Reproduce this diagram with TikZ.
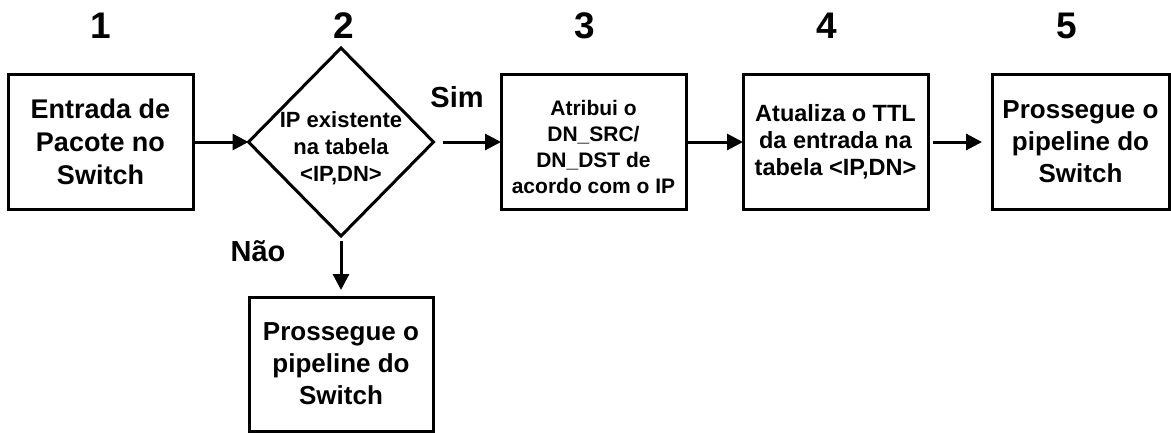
\documentclass[tikz,border=0pt]{standalone}
\usepackage{fontspec}
\setmainfont{Liberation Sans}
\usetikzlibrary{shapes.geometric,arrows.meta}
\tikzset{
  stepbox/.style={draw, line width=3pt, minimum height=135pt, minimum width=185pt, inner sep=0pt, outer sep=0pt, align=center},
  decbox/.style={draw, diamond, line width=3pt, minimum width=185pt, minimum height=188pt, inner sep=0pt, outer sep=0pt},
  txt/.style={align=center, inner sep=0pt},
  numlbl/.style={inner sep=0pt, font=\fontsize{37}{42}\selectfont\bfseries},
  branchlbl/.style={inner sep=0pt, font=\fontsize{29}{34}\selectfont\bfseries},
  bigtxt/.style={font=\fontsize{27}{33}\selectfont\bfseries},
  midtxt/.style={font=\fontsize{26}{32}\selectfont\bfseries},
  arr/.style={line width=3pt, -{Triangle[length=16pt,width=16pt]}}
}
\begin{document}
\begin{tikzpicture}[x=1pt,y=-1pt]
\fill[white] (0,0) rectangle (1171,432);
\useasboundingbox (0,0) rectangle (1171,432);

% numbers
\node[numlbl] (n1) at (101,26) {1};
\node[numlbl] (n2) at (344,26) {2};
\node[numlbl] (n3) at (585,26) {3};
\node[numlbl] (n4) at (827,26) {4};
\node[numlbl] (n5) at (1067,26) {5};

% boxes
\node[stepbox, bigtxt] (b1) at (100.5,142) {Entrada de\\Pacote no\\Switch};
\node[decbox] (d) at (341,142) {};
\node[txt, font=\fontsize{22}{27}\selectfont\bfseries] (dt) at (341,148) {IP existente\\na tabela\\<IP,DN>};
\node[stepbox] (b3) at (593.5,142) {};
\node[txt, font=\fontsize{21}{26}\selectfont\bfseries] (b3t) at (593.5,147) {Atribui o\\DN\_SRC/\\DN\_DST de\\acordo com o IP};
\node[stepbox, font=\fontsize{23.5}{27}\selectfont\bfseries] (b4) at (835.5,142) {Atualiza o TTL\\da entrada na\\tabela <IP,DN>};
\node[stepbox, midtxt, minimum width=177pt] (b5) at (1080.5,142) {Prossegue o\\pipeline do\\Switch};
\node[stepbox, midtxt, minimum height=134pt, minimum width=184pt] (b6) at (341,364) {Prossegue o\\pipeline do\\Switch};

% branch labels
\node[branchlbl] (sim) at (457,97) {Sim};
\node[branchlbl] (nao) at (258,251) {Não};

% connectors
\draw[arr] (b1.east) -- (d.west);
\draw[arr, shorten <=9pt] (d.east) -- (b3.west);
\draw[arr] (b3.east) -- (b4.west);
\draw[arr, shorten <=5pt, shorten >=10pt] (b4.east) -- (b5.west);
\draw[arr, shorten <=5pt, shorten >=7pt] (d.south) -- (b6.north);
\end{tikzpicture}
\end{document}
